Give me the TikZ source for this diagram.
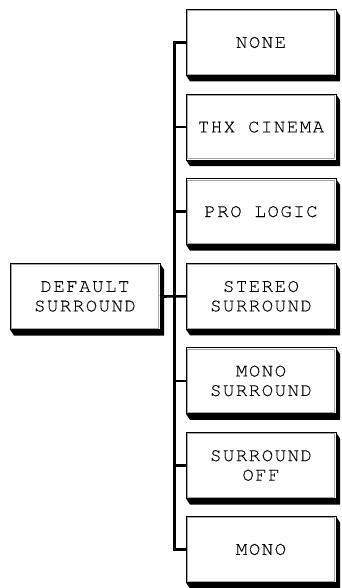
\documentclass[tikz,border=0pt]{standalone}
\usepackage{fontspec}
\newfontfamily\boxfont{texgyrecursor-regular.otf}[LetterSpace=8,FakeBold=0.15]
\usetikzlibrary{calc}
\tikzset{
  menubox/.style={draw=black, line width=1pt, fill=white, rectangle, outer sep=0pt, inner sep=0pt,
    minimum width=150pt, minimum height=66pt, align=center,
    font={\boxfont\fontsize{19}{19.5}\selectfont}},
  link/.style={line width=2.6pt, line join=miter},
}
\begin{document}
\begin{tikzpicture}[x=1pt,y=-1pt]
\useasboundingbox (0,0) rectangle (341,588);
\node[menubox] (def) at (85,296.5) {DEFAULT\\SURROUND};
\node[menubox] (none) at (261,42.5) {NONE};
\node[menubox] (thx) at (261,127.1) {THX CINEMA};
\node[menubox] (pro) at (261,211.7) {PRO LOGIC};
\node[menubox] (stereo) at (261,296.3) {STEREO\\SURROUND};
\node[menubox] (monos) at (261,380.9) {MONO\\SURROUND};
\node[menubox] (off) at (261,465.5) {SURROUND\\OFF};
\node[menubox] (mono) at (261,549.5) {MONO};
\foreach \n in {def,none,thx,pro,stereo,monos,off,mono}{
  \fill[black] (\n.south west) -- ($(\n.south west)+(4,6)$) -- ($(\n.south east)+(4,6)$)
     -- ($(\n.north east)+(4,6)$) -- (\n.north east) -- (\n.south east) -- cycle;
  \draw[gray!70, line width=0.9pt] ($(\n.north west)+(1.3,1.3)$) rectangle ($(\n.south east)+(-1.3,-1.3)$);
  \draw[black, line width=1pt] (\n.north west) rectangle (\n.south east);
}
\draw[link] (none.west) -- ++(-11.5,0) |- (mono.west);
\foreach \n in {thx,pro,monos,off}{
  \draw[link] (\n.west) -- ++(-11.5,0);
}
\draw[link] (def.east) -- (stereo.west);
\end{tikzpicture}
\end{document}
